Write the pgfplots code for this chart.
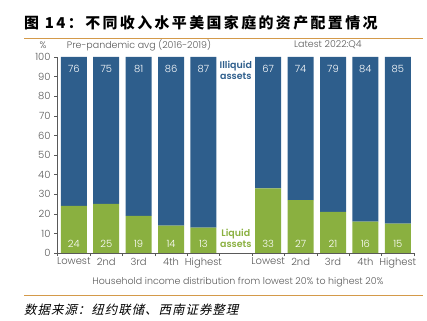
\documentclass[border=0pt]{standalone}
\usepackage{pgfplots}
\pgfplotsset{compat=1.18}
\usepackage{fontspec}
\setmainfont{Poppins}[UprightFont=* Light, BoldFont=* SemiBold]
\newfontfamily\cjk{Noto Sans CJK SC}[LetterSpace=16]
\newfontfamily\cjkit{Noto Sans CJK SC}[FakeSlant=0.22, LetterSpace=8]
\definecolor{dblue}{HTML}{2E5E8C}
\definecolor{lgreen}{HTML}{8AB040}
\definecolor{gline}{HTML}{D49A4A}
\definecolor{tgrey}{HTML}{595959}
\tikzset{vl/.style={text=white, font=\fontsize{10}{11}\selectfont}}
\begin{document}
\begin{tikzpicture}
\useasboundingbox (0,0) rectangle (427bp,321bp);
\node[anchor=west, inner sep=0pt, font=\cjk\bfseries\fontsize{15}{17}\selectfont] at (24bp,298bp) {图 14：不同收入水平美国家庭的资产配置情况};
\draw[gline, line width=0.9pt] (24bp,283bp) -- (423bp,283bp);
\draw[gline, line width=0.9pt] (24bp,26bp) -- (423bp,26bp);
\node[anchor=west, inner sep=0pt, font=\cjkit\fontsize{12.5}{14}\selectfont] at (24bp,11bp) {数据来源：纽约联储、西南证券整理};
\node[text=tgrey, font=\fontsize{9.5}{10}\selectfont] at (43bp,276bp) {\%};
\node[text=tgrey, font=\fontsize{9.5}{10}\selectfont] at (139bp,276bp) {Pre-pandemic avg (2016-2019)};
\node[text=tgrey, font=\fontsize{9.5}{10}\selectfont] at (328bp,276bp) {Latest 2022:Q4};
\node[text=tgrey, font=\fontsize{9.5}{10}\selectfont] at (238bp,39bp) {Household income distribution from lowest 20\% to highest 20\%};
\begin{axis}[
  at={(57bp,68bp)}, anchor=south west, scale only axis,
  width=357bp, height=196bp,
  ybar stacked, bar width=26bp,
  xmin=-0.52, xmax=10.5, ymin=0, ymax=100,
  axis x line*=bottom, axis y line*=left,
  axis line style={tgrey,-},
  ytick={0,10,...,100},
  xtick={-0.5,0.5,1.5,2.5,3.5,4.5,5.5,6.5,7.5,8.5,9.5,10.5},
  xticklabels={},
  extra x ticks={0,1,2,3,4,6,7,8,9,10},
  extra x tick labels={Lowest,2nd,3rd,4th,Highest,Lowest,2nd,3rd,4th,Highest},
  extra x tick style={major tick length=0pt, xticklabel style={yshift=-1.5bp}},
  tick style={tgrey, thin},
  tick align=outside, major tick length=3bp,
  /pgf/number format/assume math mode=true,
  ticklabel style={font=\fontsize{10}{11}\selectfont, text=tgrey},
]
\addplot[fill=lgreen, draw=none] coordinates {(0,24)(1,25)(2,19)(3,14)(4,13)(6,33)(7,27)(8,21)(9,16)(10,15)};
\addplot[fill=dblue, draw=none] coordinates {(0,76)(1,75)(2,81)(3,86)(4,87)(6,67)(7,73)(8,79)(9,84)(10,85)};
\coordinate (t0) at (axis cs:0,94);
\coordinate (t1) at (axis cs:1,94);
\coordinate (t2) at (axis cs:2,94);
\coordinate (t3) at (axis cs:3,94);
\coordinate (t4) at (axis cs:4,94);
\coordinate (t6) at (axis cs:6,94);
\coordinate (t7) at (axis cs:7,94);
\coordinate (t8) at (axis cs:8,94);
\coordinate (t9) at (axis cs:9,94);
\coordinate (t10) at (axis cs:10,94);
\coordinate (b0) at (axis cs:0,4.6);
\coordinate (b1) at (axis cs:1,4.6);
\coordinate (b2) at (axis cs:2,4.6);
\coordinate (b3) at (axis cs:3,4.6);
\coordinate (b4) at (axis cs:4,4.6);
\coordinate (b6) at (axis cs:6,4.6);
\coordinate (b7) at (axis cs:7,4.6);
\coordinate (b8) at (axis cs:8,4.6);
\coordinate (b9) at (axis cs:9,4.6);
\coordinate (b10) at (axis cs:10,4.6);
\node[text=dblue, font=\bfseries\fontsize{9.5}{11}\selectfont, align=center] at (axis cs:5,93) {Illiquid\\assets};
\node[text=lgreen, font=\bfseries\fontsize{9.5}{11}\selectfont, align=center] at (axis cs:5,7.6) {Liquid\\assets};
\end{axis}
\node[vl] at (t0) {76};
\node[vl] at (t1) {75};
\node[vl] at (t2) {81};
\node[vl] at (t3) {86};
\node[vl] at (t4) {87};
\node[vl] at (t6) {67};
\node[vl] at (t7) {74};
\node[vl] at (t8) {79};
\node[vl] at (t9) {84};
\node[vl] at (t10) {85};
\node[vl] at (b0) {24};
\node[vl] at (b1) {25};
\node[vl] at (b2) {19};
\node[vl] at (b3) {14};
\node[vl] at (b4) {13};
\node[vl] at (b6) {33};
\node[vl] at (b7) {27};
\node[vl] at (b8) {21};
\node[vl] at (b9) {16};
\node[vl] at (b10) {15};
\end{tikzpicture}
\end{document}
